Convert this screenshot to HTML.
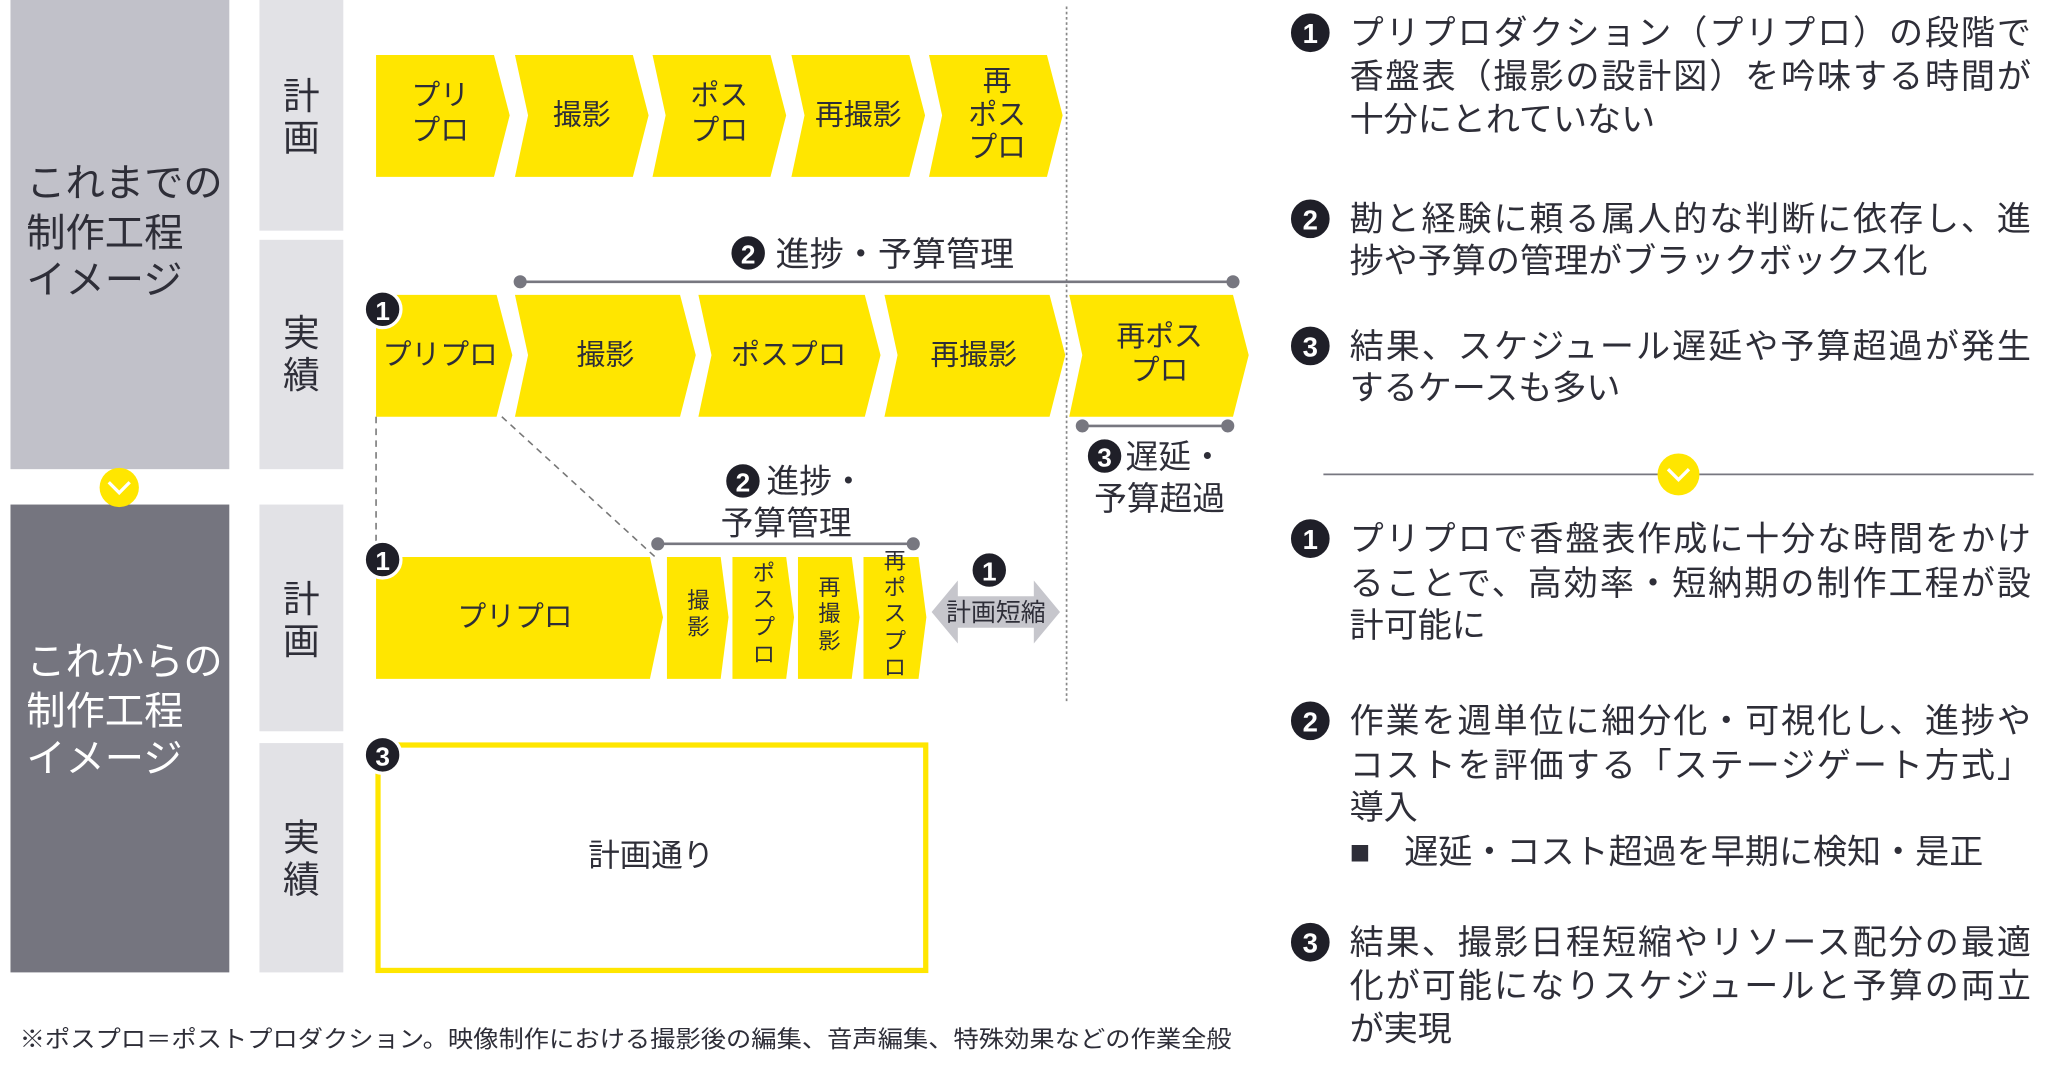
<!DOCTYPE html>
<html><head><meta charset="utf-8"><style>
html,body{margin:0;padding:0;background:#fff;}
svg{display:block;}
text{font-family:"Liberation Sans","Noto Sans CJK JP",sans-serif;fill:#2e2e38;}
.b{font-family:"Liberation Sans",sans-serif;font-weight:bold;fill:#fff;}
</style></head><body>
<svg width="2048" height="1072" viewBox="0 0 1563 818" preserveAspectRatio="none" xmlns="http://www.w3.org/2000/svg">
<defs>
<g id="bd"><circle r="14" fill="#1f1f28" stroke="#fff" stroke-width="2.5"/></g>
<g id="bd2"><circle r="16" fill="#1f1f28" stroke="#fff" stroke-width="2.5"/></g>
</defs>
<rect x="8" y="0" width="167" height="358" fill="#c1c1c9"/>
<rect x="8" y="385" width="167" height="357" fill="#75757f"/>
<g font-size="30" >
<text x="20" y="150">これまでの</text>
<text x="20" y="188">制作工程</text>
<text x="20" y="224">イメージ</text>
</g>
<g font-size="30">
<text x="20" y="515" style="fill:#fff">これからの</text>
<text x="20" y="553" style="fill:#fff">制作工程</text>
<text x="20" y="589" style="fill:#fff">イメージ</text>
</g>
<circle cx="91" cy="372" r="15" fill="#ffe600"/>
<polyline points="83,368 91,376 99,368" fill="none" stroke="#fff" stroke-width="2.5"/>
<g fill="#e2e2e6">
<rect x="198" y="0" width="64" height="176"/>
<rect x="198" y="183" width="64" height="175"/>
<rect x="198" y="385" width="64" height="173"/>
<rect x="198" y="567" width="64" height="175"/>
</g>
<g font-size="28" text-anchor="middle">
<text x="230" y="83">計</text><text x="230" y="115">画</text>
<text x="230" y="264">実</text><text x="230" y="296">績</text>
<text x="230" y="467">計</text><text x="230" y="499">画</text>
<text x="230" y="649">実</text><text x="230" y="681">績</text>
</g>
<line x1="814" y1="5" x2="814" y2="535" stroke="#888" stroke-width="1.3" stroke-dasharray="2,2"/>
<g fill="#ffe600">
<polygon points="287,42 377,42 389,88 377,135 287,135"/>
<polygon points="393,42 483,42 495,88 483,135 393,135 403,88"/>
<polygon points="498,42 588,42 600,88 588,135 498,135 508,88"/>
<polygon points="604,42 694,42 706,88 694,135 604,135 614,88"/>
<polygon points="709,42 799,42 811,88 799,135 709,135 719,88"/>
</g>
<g font-size="22" text-anchor="middle">
<text x="336" y="80">プリ</text><text x="336" y="107">プロ</text>
<text x="444" y="95">撮影</text>
<text x="549" y="80">ポス</text><text x="549" y="107">プロ</text>
<text x="655" y="95">再撮影</text>
<text x="761" y="69">再</text><text x="761" y="95">ポス</text><text x="761" y="120">プロ</text>
</g>
<line x1="397" y1="215" x2="941" y2="215" stroke="#777780" stroke-width="2"/>
<circle cx="397" cy="215" r="5" fill="#777780"/><circle cx="941" cy="215" r="5" fill="#777780"/>
<use href="#bd" x="571" y="193"/><text class="b" x="571" y="201" font-size="20" text-anchor="middle">2</text>
<text x="592" y="203" font-size="26">進捗・予算管理</text>
<g fill="#ffe600">
<polygon points="287,225 379,225 391,271 379,318 287,318"/>
<polygon points="393,225 519,225 531,271 519,318 393,318 403,271"/>
<polygon points="533,225 660,225 672,271 660,318 533,318 543,271"/>
<polygon points="675,225 801,225 813,271 801,318 675,318 685,271"/>
<polygon points="816,225 941,225 953,271 941,318 816,318 826,271"/>
</g>
<g font-size="22" text-anchor="middle">
<text x="336" y="278">プリプロ</text>
<text x="462" y="278">撮影</text>
<text x="602" y="278">ポスプロ</text>
<text x="743" y="278">再撮影</text>
<text x="885" y="264">再ポス</text><text x="885" y="290">プロ</text>
</g>
<use href="#bd" x="292" y="236"/><text class="b" x="292" y="244" font-size="20" text-anchor="middle">1</text>
<line x1="826" y1="325" x2="937" y2="325" stroke="#777780" stroke-width="2"/>
<circle cx="826" cy="325" r="5" fill="#777780"/><circle cx="937" cy="325" r="5" fill="#777780"/>
<use href="#bd" x="843" y="348"/><text class="b" x="843" y="356" font-size="20" text-anchor="middle">3</text>
<text x="859" y="357" font-size="25">遅延・</text>
<text x="885" y="389" font-size="25" text-anchor="middle">予算超過</text>
<line x1="287" y1="318" x2="287" y2="420" stroke="#777" stroke-width="1.2" stroke-dasharray="5,4"/>
<line x1="383" y1="318" x2="500" y2="425" stroke="#777" stroke-width="1.2" stroke-dasharray="5,4"/>
<use href="#bd" x="567" y="367"/><text class="b" x="567" y="375" font-size="20" text-anchor="middle">2</text>
<text x="585" y="376" font-size="25">進捗・</text>
<text x="600" y="408" font-size="25" text-anchor="middle">予算管理</text>
<line x1="502" y1="415" x2="697" y2="415" stroke="#777780" stroke-width="2"/>
<circle cx="502" cy="415" r="5" fill="#777780"/><circle cx="697" cy="415" r="5" fill="#777780"/>
<g fill="#ffe600">
<polygon points="287,425 496,425 506,471 496,518 287,518"/>
<polygon points="509,425 550,425 556,471 550,518 509,518"/>
<polygon points="559,425 600,425 606,471 600,518 559,518"/>
<polygon points="609,425 650,425 656,471 650,518 609,518"/>
<polygon points="659,425 701,425 707,471 701,518 659,518"/>
</g>
<text x="393" y="478" font-size="22" text-anchor="middle">プリプロ</text>
<g font-size="17" text-anchor="middle">
<text x="533" y="464">撮</text><text x="533" y="484">影</text>
<text x="583" y="443">ポ</text><text x="583" y="463">ス</text><text x="583" y="484">プ</text><text x="583" y="505">ロ</text>
<text x="633" y="454">再</text><text x="633" y="474">撮</text><text x="633" y="495">影</text>
<text x="683" y="434">再</text><text x="683" y="454">ポ</text><text x="683" y="474">ス</text><text x="683" y="495">プ</text><text x="683" y="515">ロ</text>
</g>
<use href="#bd" x="292" y="427"/><text class="b" x="292" y="435" font-size="20" text-anchor="middle">1</text>
<polygon points="711,467 731,443 731,455 789,455 789,443 809,467 789,491 789,479 731,479 731,491" fill="#c6c6cc"/>
<text x="760" y="474" font-size="19" text-anchor="middle">計画短縮</text>
<use href="#bd" x="755" y="435"/><text class="b" x="755" y="443" font-size="20" text-anchor="middle">1</text>
<rect x="288.5" y="568.5" width="418" height="172" fill="none" stroke="#ffe600" stroke-width="4"/>
<use href="#bd" x="292" y="576"/><text class="b" x="292" y="584" font-size="20" text-anchor="middle">3</text>
<text x="497" y="661" font-size="24" text-anchor="middle">計画通り</text>
<text x="15" y="799" font-size="18" textLength="925" lengthAdjust="spacingAndGlyphs">※ポスプロ＝ポストプロダクション。映像制作における撮影後の編集、音声編集、特殊効果などの作業全般</text>
<g font-size="26">
<use href="#bd2" x="1000" y="25"/><text class="b" x="1000" y="33" font-size="21" text-anchor="middle">1</text>
<text x="1030" y="34" textLength="520">プリプロダクション（プリプロ）の段階で</text>
<text x="1030" y="67" textLength="520">香盤表（撮影の設計図）を吟味する時間が</text>
<text x="1030" y="100">十分にとれていない</text>
<use href="#bd2" x="1000" y="167"/><text class="b" x="1000" y="175" font-size="21" text-anchor="middle">2</text>
<text x="1030" y="176" textLength="520">勘と経験に頼る属人的な判断に依存し、進</text>
<text x="1030" y="208">捗や予算の管理がブラックボックス化</text>
<use href="#bd2" x="1000" y="264"/><text class="b" x="1000" y="272" font-size="21" text-anchor="middle">3</text>
<text x="1030" y="273" textLength="520">結果、スケジュール遅延や予算超過が発生</text>
<text x="1030" y="305">するケースも多い</text>
<line x1="1010" y1="362" x2="1552" y2="362" stroke="#777780" stroke-width="1.3"/>
<circle cx="1281" cy="362" r="16" fill="#ffe600"/>
<polyline points="1273,358 1281,366 1289,358" fill="none" stroke="#fff" stroke-width="2.5"/>
<use href="#bd2" x="1000" y="411"/><text class="b" x="1000" y="419" font-size="21" text-anchor="middle">1</text>
<text x="1030" y="420" textLength="520">プリプロで香盤表作成に十分な時間をかけ</text>
<text x="1030" y="454" textLength="520">ることで、高効率・短納期の制作工程が設</text>
<text x="1030" y="486">計可能に</text>
<use href="#bd2" x="1000" y="550"/><text class="b" x="1000" y="558" font-size="21" text-anchor="middle">2</text>
<text x="1030" y="559" textLength="520">作業を週単位に細分化・可視化し、進捗や</text>
<text x="1030" y="593" textLength="520">コストを評価する「ステージゲート方式」</text>
<text x="1030" y="625">導入</text>
<text x="1030" y="659">■　遅延・コスト超過を早期に検知・是正</text>
<use href="#bd2" x="1000" y="719"/><text class="b" x="1000" y="727" font-size="21" text-anchor="middle">3</text>
<text x="1030" y="728" textLength="520">結果、撮影日程短縮やリソース配分の最適</text>
<text x="1030" y="761" textLength="520">化が可能になりスケジュールと予算の両立</text>
<text x="1030" y="794">が実現</text>
</g>
</svg>
</body></html>
